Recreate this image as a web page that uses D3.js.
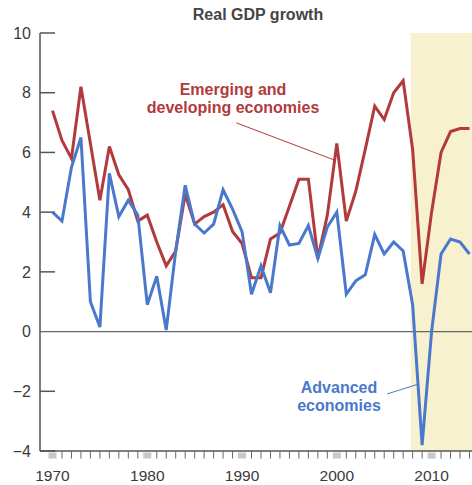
<!DOCTYPE html>
<html>
<head>
<meta charset="utf-8">
<script src="https://cdn.jsdelivr.net/npm/d3@7"></script>
<style>
  html, body { margin: 0; padding: 0; background: #fff; }
  svg { display: block; font-family: "Liberation Sans", Arial, Helvetica, sans-serif; }
</style>
</head>
<body>
<div id="chart"></div>
<script>
// ---- Data ----
const years = d3.range(1970, 2015);
const advanced = [
  4.0, 3.7, 5.5, 6.5, 1.0, 0.15, 5.3, 3.85, 4.4, 3.9,
  0.9, 1.85, 0.05, 2.7, 4.9, 3.6, 3.3, 3.6, 4.75, 4.1,
  3.35, 1.25, 2.2, 1.3, 3.55, 2.9, 2.95, 3.55, 2.45, 3.5,
  4.0, 1.25, 1.7, 1.9, 3.25, 2.6, 3.0, 2.7, 0.9, -3.8,
  0.0, 2.6, 3.1, 3.0, 2.6
];
const emerging = [
  7.4, 6.4, 5.8, 8.2, 6.3, 4.4, 6.2, 5.25, 4.75, 3.7,
  3.9, 3.0, 2.2, 2.7, 4.6, 3.6, 3.85, 4.0, 4.25, 3.35,
  2.95, 1.8, 1.8, 3.1, 3.3, 4.2, 5.1, 5.1, 2.45, 3.9,
  6.3, 3.7, 4.7, 6.1, 7.55, 7.1, 8.0, 8.4, 6.1, 1.6,
  4.0, 6.0, 6.7, 6.8, 6.8
];
const yTicks = [-4, -2, 0, 2, 4, 6, 8, 10];
const xTickLabels = [1970, 1980, 1990, 2000, 2010];
const shadeStart = 2007.8;
const title = "Real GDP growth";
const emergingLabel = ["Emerging and", "developing economies"];
const advancedLabel = ["Advanced", "economies"];

// ---- Layout ----
const W = 472, H = 485;
const axisX = 40, axisRight = 472;
const x = d3.scaleLinear().domain([1970, 2014]).range([52.5, 469.5]);
const y = d3.scaleLinear().domain([-4, 10]).range([451, 33]);

const RED = "#b23a3c", BLUE = "#4a78cc", GREY = "#555";

const svg = d3.select("#chart").append("svg").attr("width", W).attr("height", H);

// shaded projection region
svg.append("rect")
  .attr("x", x(shadeStart)).attr("y", y(10))
  .attr("width", axisRight - x(shadeStart)).attr("height", y(-4) - y(10))
  .attr("fill", "#f8f1d0");

// title
svg.append("text").attr("x", 258).attr("y", 20).attr("text-anchor", "middle")
  .attr("font-size", 16).attr("font-weight", "bold").attr("fill", "#454545").text(title);

// y axis
const yAxis = svg.append("g");
yAxis.append("line").attr("x1", axisX).attr("x2", axisX).attr("y1", y(10)).attr("y2", y(-4))
  .attr("stroke", GREY).attr("stroke-width", 1.5);
yTicks.forEach(t => {
  yAxis.append("line")
    .attr("x1", axisX).attr("x2", t === 0 ? axisRight : axisX + 15)
    .attr("y1", y(t)).attr("y2", y(t))
    .attr("stroke", t === 0 ? "#666" : GREY).attr("stroke-width", t === 0 ? 1.2 : 1.5);
  yAxis.append("text").attr("x", 31).attr("y", y(t)).attr("dy", "0.36em")
    .attr("text-anchor", "end").attr("font-size", 16).attr("fill", "#3a3a3a")
    .text(t < 0 ? "\u2212" + Math.abs(t) : t);
});

// x axis
const xAxis = svg.append("g");
xAxis.append("line").attr("x1", axisX).attr("x2", axisRight).attr("y1", y(-4)).attr("y2", y(-4))
  .attr("stroke", GREY).attr("stroke-width", 1.5);
years.forEach(yr => {
  if (yr % 10 === 0) {
    xAxis.append("rect").attr("x", x(yr) - 4).attr("y", y(-4) + 1.5).attr("width", 8).attr("height", 6)
      .attr("fill", "#c8c8c8");
  } else {
    xAxis.append("line").attr("x1", x(yr)).attr("x2", x(yr)).attr("y1", y(-4)).attr("y2", y(-4) + 7.5)
      .attr("stroke", "#666").attr("stroke-width", 1);
  }
});
xTickLabels.forEach(yr => {
  xAxis.append("text").attr("x", x(yr)).attr("y", 481).attr("text-anchor", "middle")
    .attr("font-size", 15.5).attr("fill", "#3a3a3a").text(yr);
});

// lines
const line = d3.line().x(d => x(d[0])).y(d => y(d[1]));
svg.append("path").datum(years.map((yr, i) => [yr, emerging[i]]))
  .attr("d", line).attr("fill", "none").attr("stroke", RED).attr("stroke-width", 3)
  .attr("stroke-linejoin", "miter");
svg.append("path").datum(years.map((yr, i) => [yr, advanced[i]]))
  .attr("d", line).attr("fill", "none").attr("stroke", BLUE).attr("stroke-width", 3)
  .attr("stroke-linejoin", "miter");

// annotations
svg.append("line").attr("x1", x(1989.4)).attr("y1", y(6.99)).attr("x2", x(1999.7)).attr("y2", y(5.75))
  .attr("stroke", RED).attr("stroke-width", 1);
emergingLabel.forEach((t, i) => {
  svg.append("text").attr("x", x(1989.05)).attr("y", y(7.92) + i * 18).attr("text-anchor", "middle")
    .attr("font-size", 16).attr("font-weight", "bold").attr("fill", RED).text(t);
});
svg.append("line").attr("x1", x(2005.3)).attr("y1", y(-2.09)).attr("x2", x(2008.5)).attr("y2", y(-1.77))
  .attr("stroke", BLUE).attr("stroke-width", 1);
advancedLabel.forEach((t, i) => {
  svg.append("text").attr("x", x(2000.23)).attr("y", y(-2.06) + i * 18).attr("text-anchor", "middle")
    .attr("font-size", 16).attr("font-weight", "bold").attr("fill", BLUE).text(t);
});
</script>
</body>
</html>
